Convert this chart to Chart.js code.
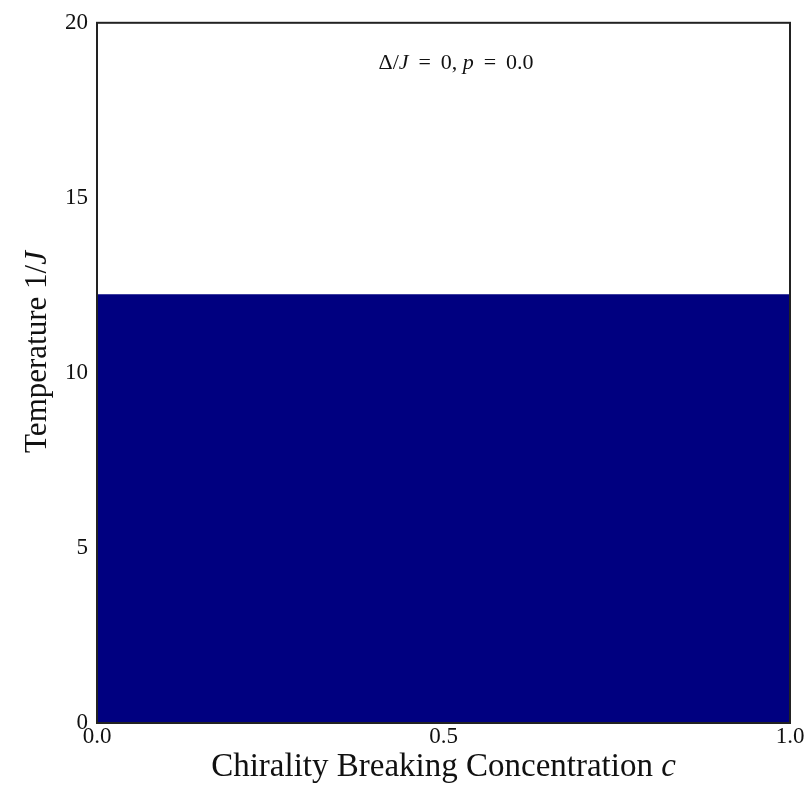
<!DOCTYPE html>
<html>
<head>
<meta charset="utf-8">
<script src="https://cdn.jsdelivr.net/npm/chart.js@4/dist/chart.umd.min.js"></script>
<style>
  html, body { margin: 0; padding: 0; background: #fff; }
  #wrap { width: 809px; height: 794px; }
</style>
</head>
<body>
<div id="wrap"><canvas id="phase"></canvas></div>
<script>
// concentration c along the bottom, ordered phase boundary in 1/J
var concentration = [0.0, 1.0];
var boundary = [12.25, 12.25];
var xTicks = [0.0, 0.5, 1.0];
var yTicks = [0, 5, 10, 15, 20];

var serif = "'Liberation Serif', 'DejaVu Serif', serif";

// draws a line made of plain and italic pieces, centred on (x, y)
function drawRuns(ctx, runs, x, y, size, angle) {
  ctx.save();
  ctx.translate(x, y);
  ctx.rotate(angle || 0);
  ctx.textBaseline = 'middle';
  ctx.textAlign = 'left';
  var total = 0;
  runs.forEach(function(r) {
    ctx.font = (r[1] ? 'italic ' : '') + size + 'px ' + serif;
    total += ctx.measureText(r[0]).width;
  });
  var pos = -total / 2;
  runs.forEach(function(r) {
    ctx.font = (r[1] ? 'italic ' : '') + size + 'px ' + serif;
    ctx.fillStyle = '#111';
    ctx.fillText(r[0], pos, 0);
    pos += ctx.measureText(r[0]).width;
  });
  ctx.restore();
}

var labels = {
  id: 'labels',
  afterDraw: function(chart) {
    var ctx = chart.ctx;
    var a = chart.chartArea;
    ctx.save();
    ctx.strokeStyle = '#222';
    ctx.lineWidth = 2;
    ctx.strokeRect(a.left, a.top, a.right - a.left, a.bottom - a.top);
    ctx.restore();

    drawRuns(ctx, [['Chirality Breaking Concentration ', false], ['c', true]],
      (a.left + a.right) / 2, 767, 33);
    drawRuns(ctx, [['Temperature 1/', false], ['J', true]],
      38, 352, 31, -Math.PI / 2);
    drawRuns(ctx, [['\u0394/', false], ['J', true], [' \u2009= \u20090, ', false], ['p', true], [' \u2009= \u20090.0', false]],
      456, 63, 22);
  }
};

new Chart(document.getElementById('phase'), {
  type: 'line',
  data: {
    datasets: [{
      data: concentration.map(function(c, i) { return { x: c, y: boundary[i] }; }),
      borderColor: '#000080',
      borderWidth: 0,
      backgroundColor: '#000080',
      fill: 'origin',
      pointRadius: 0,
      tension: 0
    }]
  },
  options: {
    responsive: true,
    maintainAspectRatio: false,
    animation: false,
    layout: { padding: { top: 22, right: 19, left: 0, bottom: 0 } },
    plugins: { legend: { display: false }, tooltip: { enabled: false } },
    scales: {
      x: {
        type: 'linear',
        min: 0,
        max: 1,
        grid: { display: false, drawTicks: false },
        border: { display: false },
        afterBuildTicks: function(scale) {
          scale.ticks = xTicks.map(function(v) { return { value: v }; });
        },
        afterFit: function(scale) { scale.height = 71; },
        ticks: {
          padding: 0,
          color: '#111',
          font: { family: serif, size: 23 },
          maxRotation: 0,
          callback: function(v) { return Number(v).toFixed(1); }
        }
      },
      y: {
        min: 0,
        max: 20,
        grid: { display: false, drawTicks: false },
        border: { display: false },
        afterBuildTicks: function(scale) {
          scale.ticks = yTicks.map(function(v) { return { value: v }; });
        },
        afterFit: function(scale) { scale.width = 97; },
        ticks: {
          padding: 9,
          color: '#111',
          font: { family: serif, size: 23 }
        }
      }
    }
  },
  plugins: [labels]
});
</script>
</body>
</html>
